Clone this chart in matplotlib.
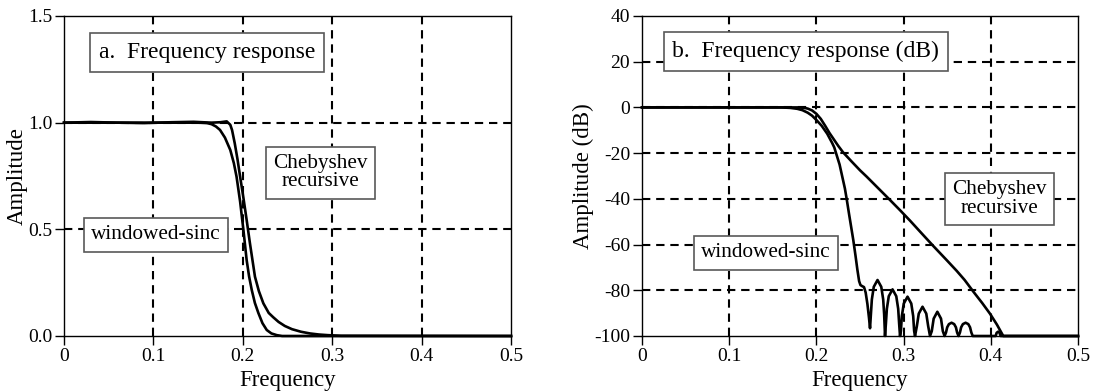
import matplotlib
matplotlib.use("Agg")
import matplotlib.pyplot as plt

# values
lin_sinc_freq = [0, 0.05, 0.10, 0.15, 0.160, 0.165, 0.170, 0.1745, 0.180,
                 0.186, 0.190, 0.193, 0.197, 0.2006, 0.2043, 0.207, 0.210,
                 0.2135, 0.2174, 0.222, 0.2268, 0.232, 0.238, 0.244, 0.5]
lin_sinc_amp = [1.0, 1.0, 1.0, 1.0, 0.998, 0.993, 0.982, 0.966, 0.93,
                0.872, 0.81, 0.747, 0.63, 0.5, 0.356, 0.28, 0.216,
                0.155, 0.108, 0.06, 0.028, 0.012, 0.004, 0.0, 0.0]

lin_cheb_freq = [0, 0.03, 0.06, 0.09, 0.12, 0.145, 0.165, 0.175, 0.182,
                 0.186, 0.188, 0.191, 0.194, 0.197, 0.2006, 0.2043, 0.208,
                 0.2136, 0.218, 0.223, 0.229, 0.234, 0.24, 0.247, 0.255,
                 0.265, 0.275, 0.285, 0.295, 0.31, 0.5]
lin_cheb_amp = [1.0, 1.003, 1.0, 0.998, 1.002, 1.004, 1.0, 1.002, 1.006,
                0.99, 0.965, 0.903, 0.83, 0.747, 0.65, 0.544, 0.434,
                0.278, 0.21, 0.153, 0.108, 0.088, 0.066, 0.047, 0.032,
                0.02, 0.012, 0.007, 0.004, 0.001, 0.0]

db_sinc_freq = [0, 0.10, 0.16, 0.17, 0.178, 0.184, 0.19, 0.195, 0.2, 0.206,
                0.2124, 0.218, 0.2205, 0.2266, 0.2327, 0.2347, 0.2376,
                0.2423, 0.2449, 0.247, 0.249, 0.2505, 0.2525, 0.2546,
                0.2565, 0.2585, 0.2603, 0.2615,
                0.2625, 0.2636, 0.2658, 0.2701, 0.2744, 0.2766, 0.2777, 0.2787,
                0.2797, 0.2808, 0.2830, 0.2873, 0.2916, 0.2938, 0.2949, 0.2959,
                0.2969, 0.2980, 0.3002, 0.3045, 0.3088, 0.3110, 0.3121, 0.3131,
                0.3152, 0.3174, 0.3217, 0.3260, 0.3282, 0.3303,
                0.3323, 0.3345, 0.3387, 0.3429, 0.3450, 0.3470,
                0.3486, 0.3500, 0.3520, 0.3550, 0.3580, 0.3600, 0.3614, 0.3630,
                0.3646, 0.3660, 0.3680, 0.3711, 0.3742, 0.3762, 0.3777, 0.3793,
                0.4056, 0.4067, 0.4085, 0.4100, 0.4113, 0.5]
db_sinc_amp = [0, 0, 0, -0.2, -0.6, -1.2, -2.3, -3.6, -5.5, -8.0,
               -11.5, -15.5, -17.5, -25.0, -35.5, -40.0, -47.0,
               -58.0, -65.0, -71.0, -76.0, -77.7, -78.2, -78.6,
               -81.0, -86.0, -92.0, -96.6,
               -90.5, -84.0, -78.5, -75.5, -78.5, -84.0, -90.5, -100,
               -94.6, -88.1, -82.6, -79.6, -82.6, -88.1, -94.6, -100,
               -97.8, -91.3, -85.8, -82.8, -85.8, -91.3, -97.8, -100,
               -95.7, -90.2, -87.2, -90.2, -95.7, -100,
               -97.9, -92.4, -89.4, -92.4, -97.9, -100,
               -98.5, -96.2, -94.8, -94.2, -94.8, -96.2, -98.5, -100,
               -98.5, -96.2, -94.8, -94.2, -94.8, -96.2, -98.5, -100,
               -100, -98.6, -98.1, -98.6, -100, -100]

db_cheb_freq = [0, 0.10, 0.17, 0.18, 0.186, 0.19, 0.195, 0.2, 0.205, 0.21,
                0.215, 0.22, 0.225, 0.2305, 0.24, 0.25, 0.2577, 0.27,
                0.2844, 0.296, 0.3073, 0.32, 0.334, 0.3494, 0.3609, 0.37,
                0.38, 0.39, 0.399, 0.407, 0.4143, 0.5]
db_cheb_amp = [0, 0, 0, 0, -0.2, -0.5, -1.3, -2.8, -5.0, -8.0,
               -11.2, -14.0, -16.8, -19.6, -23.5, -27.5, -30.3, -35.0,
               -40.5, -45.0, -49.5, -54.8, -60.6, -66.8, -71.5, -75.5,
               -80.6, -85.5, -90.2, -95.0, -100, -100]

freq_ticks = [0, 0.1, 0.2, 0.3, 0.4, 0.5]
freq_labels = ['0', '0.1', '0.2', '0.3', '0.4', '0.5']
lin_ticks = [0.0, 0.5, 1.0, 1.5]
lin_labels = ['0.0', '0.5', '1.0', '1.5']
db_ticks = [-100, -80, -60, -40, -20, 0, 20, 40]
db_labels = ['-100', '-80', '-60', '-40', '-20', '0', '20', '40']

plt.rcParams['font.family'] = ['Liberation Serif', 'DejaVu Serif']


def setup_axes(ax, yticks, ylabels, ylabel):
    ax.set_xlim(freq_ticks[0], freq_ticks[-1])
    ax.set_ylim(yticks[0], yticks[-1])
    ax.set_xticks(freq_ticks)
    ax.set_xticklabels(freq_labels)
    ax.set_yticks(yticks)
    ax.set_yticklabels(ylabels)
    ax.tick_params(direction='out', length=6.5, width=1, labelsize=14,
                   pad=2)
    for sp in ax.spines.values():
        sp.set_linewidth(1)
    for t in freq_ticks[1:-1]:
        ax.axvline(t, color='black', lw=1.5, ls=(0, (4, 2.8)), zorder=1)
    for t in yticks[1:-1]:
        ax.axhline(t, color='black', lw=1.5, ls=(0, (4, 2.8)), zorder=1)
    ax.set_xlabel('Frequency', fontsize=16.5, labelpad=4)
    ax.set_ylabel(ylabel, fontsize=16.5, labelpad=0)


def label_box(ax, x, y, text, size=15.3, pad=0.35):
    ax.text(x, y, text, fontsize=size, ha='center', va='center',
            linespacing=0.95, zorder=5,
            bbox=dict(boxstyle='square,pad=%.2f' % pad, facecolor='white',
                      edgecolor='0.35', lw=1.2))


def main():
    fig = plt.figure(figsize=(10.95, 3.92), dpi=100)
    ax1 = fig.add_axes([0.05845, 0.14286, 0.40822, 0.81633])
    ax2 = fig.add_axes([0.58630, 0.14286, 0.39817, 0.81633])

    setup_axes(ax1, lin_ticks, lin_labels, 'Amplitude')
    ax1.plot(lin_sinc_freq, lin_sinc_amp, color='black', lw=1.9,
             zorder=3, clip_on=False)
    ax1.plot(lin_cheb_freq, lin_cheb_amp, color='black', lw=1.9,
             zorder=3, clip_on=False)
    label_box(ax1, 0.16, 1.33, 'a.  Frequency response', 17, 0.38)
    label_box(ax1, 0.287, 0.765, 'Chebyshev\nrecursive')
    label_box(ax1, 0.103, 0.475, 'windowed-sinc')

    setup_axes(ax2, db_ticks, db_labels, 'Amplitude (dB)')
    ax2.plot(db_sinc_freq, db_sinc_amp, color='black', lw=1.9,
             zorder=3, clip_on=False)
    ax2.plot(db_cheb_freq, db_cheb_amp, color='black', lw=1.9,
             zorder=3, clip_on=False)
    label_box(ax2, 0.188, 24.5, 'b.  Frequency response (dB)', 17, 0.38)
    label_box(ax2, 0.41, -40, 'Chebyshev\nrecursive')
    label_box(ax2, 0.142, -63.5, 'windowed-sinc')

    fig.savefig('out.png', dpi=100)


if __name__ == "__main__":
    main()
